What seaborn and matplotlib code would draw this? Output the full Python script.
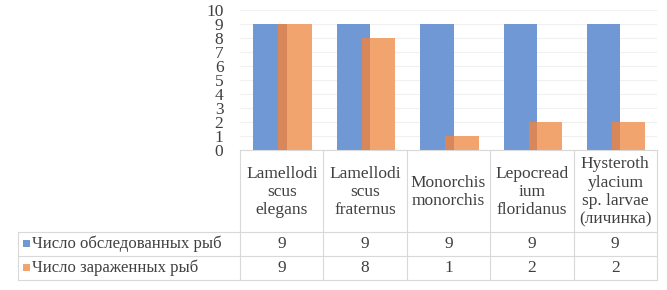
import pandas as pd
import seaborn as sns
import matplotlib.pyplot as plt
from matplotlib.lines import Line2D
from matplotlib.patches import Rectangle
import matplotlib.transforms as mtrans

# Datos del gráfico
categorias = ['Lamellodi\nscus\nelegans', 'Lamellodi\nscus\nfraternus', 'Monorchis\nmonorchis',
              'Lepocread\nium\nfloridanus', 'Hysteroth\nylacium\nsp. larvae\n(личинка)']
serie_1 = 'Число обследованных рыб'
serie_2 = 'Число зараженных рыб'
obsledovannye = [9, 9, 9, 9, 9]
zarazhennye = [9, 8, 1, 2, 2]

colores = ['#7098d4', '#f2a46e']
color_sombra = '#d8875a'
color_texto = '#404040'

df = pd.DataFrame({
    'Especie': categorias * 2,
    'Valor': obsledovannye + zarazhennye,
    'Serie': [serie_1] * len(categorias) + [serie_2] * len(categorias),
})

sns.set_style('white')
plt.rcParams['font.family'] = ['Liberation Serif', 'DejaVu Serif']

fig = plt.figure(figsize=(6.67, 2.9), dpi=100)
ax = fig.add_axes([0.36, 0.483, 0.625, 0.483])

sns.barplot(data=df, x='Especie', y='Valor', hue='Serie', palette=colores,
            width=0.8, legend=False, ax=ax, saturation=1)

# Barras superpuestas como en Excel
desplazamientos = [0.06, -0.04]
for cont, d in zip(ax.containers, desplazamientos):
    for p in cont:
        p.set_x(p.get_x() + d)
        p.set_linewidth(0)

# Franja oscura donde se superponen
for b, o in zip(ax.containers[0], ax.containers[1]):
    izq = o.get_x()
    der = b.get_x() + b.get_width()
    ax.add_patch(Rectangle((izq, 0), der - izq, min(b.get_height(), o.get_height()),
                           color=color_sombra, lw=0, zorder=3))

ax.set_ylim(0, 10)
ax.set_xlim(-0.5, len(categorias) - 0.5)
ax.set_yticks(range(0, 11))
ax.tick_params(axis='y', labelsize=12.5, pad=12, length=0, labelcolor=color_texto)
ax.set_xticks([])
ax.set_xlabel('')
ax.set_ylabel('')
ax.yaxis.grid(True, color='#f0f0f0', lw=0.8)
ax.set_axisbelow(True)
for s in ['left', 'right', 'top']:
    ax.spines[s].set_visible(False)
ax.spines['bottom'].set_color('#d9d9d9')

# Tabla de datos debajo del gráfico
col_linea = '#d9d9d9'
trans = mtrans.blended_transform_factory(ax.transData, fig.transFigure)
y_fondo = 0.035
y_filas = [0.2, 0.117, y_fondo]
x_izq = 18 / 667
x_der = ax.get_position().x1

for i in range(len(categorias) + 1):
    fig.add_artist(Line2D([i - 0.5, i - 0.5], [ax.get_position().y0, y_fondo],
                          transform=trans, color=col_linea, lw=0.8))
for y in y_filas:
    fig.add_artist(Line2D([x_izq, x_der], [y, y], transform=fig.transFigure,
                          color=col_linea, lw=0.8))
fig.add_artist(Line2D([x_izq, x_izq], [y_filas[0], y_fondo], transform=fig.transFigure,
                      color=col_linea, lw=0.8))

for i, c in enumerate(categorias):
    fig.text(i, 0.339, c, transform=trans, ha='center', va='center',
             fontsize=12.5, linespacing=1.18, color=color_texto)
    fig.text(i, 0.159, str(obsledovannye[i]), transform=trans, ha='center',
             va='center', fontsize=12.5, color=color_texto)
    fig.text(i, 0.076, str(zarazhennye[i]), transform=trans, ha='center',
             va='center', fontsize=12.5, color=color_texto)

for y, nombre, col in [(0.159, serie_1, colores[0]), (0.076, serie_2, colores[1])]:
    fig.add_artist(Rectangle((23 / 667, y - 0.011), 7 / 667, 7 / 290,
                             transform=fig.transFigure, color=col, lw=0))
    fig.text(32 / 667, y, nombre, ha='left', va='center', fontsize=12, color=color_texto)

plt.savefig('out.png', dpi=100)
